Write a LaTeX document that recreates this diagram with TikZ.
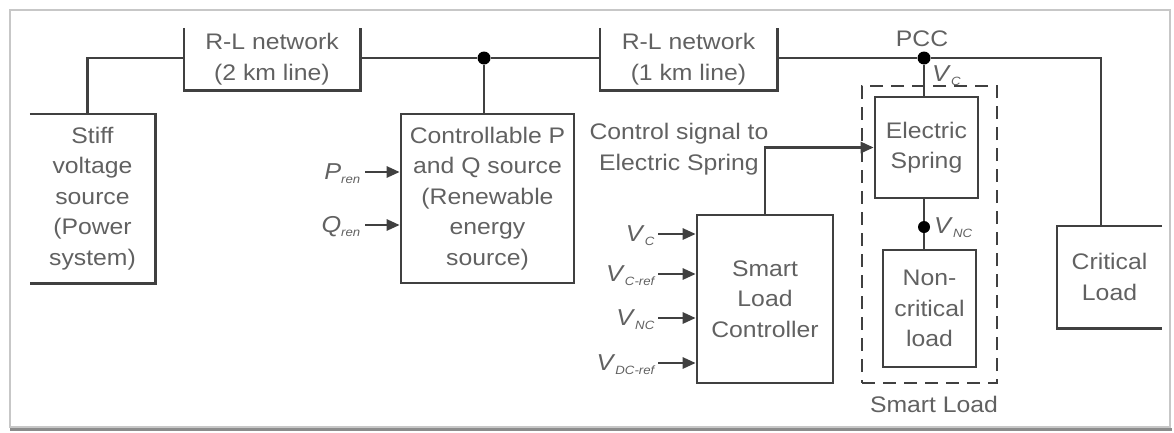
\documentclass[tikz,border=0pt]{standalone}
\usepackage{fontspec}
\setmainfont{Liberation Sans}[FakeStretch=1.1]
\usetikzlibrary{arrows.meta}
\newcommand{\sbs}[1]{\textsubscript{\fontsize{12}{12}\selectfont\itshape #1}}
\begin{document}
\begin{tikzpicture}[x=1pt,y=-1pt,
  wire/.style={draw=black!75, line width=2.6pt},
  txt/.style={align=center, text=black!62, inner sep=0pt, font=\fontsize{22.5}{30.5}\selectfont},
  blk/.style={txt, draw=black!75, line width=2.6pt},
  openblk/.style={txt},
  lbl/.style={text=black!62, inner sep=0pt, font=\fontsize{23}{24}\selectfont},
  arr/.style={wire, -{Triangle[length=13pt,width=11pt]}},
  jdot/.style={circle, fill=black, inner sep=0pt, minimum size=13pt},
  smartbox/.style={draw=black!75, line width=2.8pt, dash pattern=on 13pt off 8pt, inner sep=0pt}]
\useasboundingbox (0,0) rectangle (1174,432);
% frame
\draw[black!22, line width=1.2pt] (10,10) rectangle (1170,427);
\draw[black!45, line width=3pt] (10,429) -- (1172,429);

% blocks with open sides
\node[openblk, minimum width=125pt, minimum height=169pt] (stiff) at (92.5,198.5) {Stiff\\voltage\\source\\(Power\\system)};
\draw[wire] (stiff.north west) -- (stiff.north east) -- (stiff.south east) -- (stiff.south west);

\node[openblk, minimum width=176pt, minimum height=62pt] (rl1) at (272,59) {R-L network\\(2 km line)};
\draw[wire] (rl1.north west) -- (rl1.south west) -- (rl1.south east) -- (rl1.north east);

\node[openblk, minimum width=177pt, minimum height=62pt] (rl2) at (688.5,59) {R-L network\\(1 km line)};
\draw[wire] (rl2.north west) -- (rl2.south west) -- (rl2.south east) -- (rl2.north east);

\node[openblk, minimum width=105pt, minimum height=102pt] (crit) at (1109.5,277) {Critical\\Load};
\draw[wire] (crit.north east) -- (crit.north west) -- (crit.south west) -- (crit.south east);

% closed blocks
\node[blk, minimum width=173pt, minimum height=169pt] (ctrl) at (487.5,198.5) {Controllable P\\and Q source\\(Renewable\\energy\\source)};
\node[blk, minimum width=103pt, minimum height=101pt] (es) at (926.5,147.5) {Electric\\Spring};
\node[blk, minimum width=93pt, minimum height=117pt] (nc) at (929.5,308.5) {Non-\\critical\\load};
\node[blk, minimum width=136pt, minimum height=168pt] (slc) at (765,299) {Smart\\Load\\Controller};
\node[smartbox, minimum width=135pt, minimum height=297pt] (sl) at (929.5,234.5) {};
\node[txt] (sllabel) at (934,404) {Smart Load};

% junctions
\node[jdot] (j1) at (484,58) {};
\node[jdot] (pcc) at (924,58) {};
\node[jdot, minimum size=12pt] (vnc) at (924,227) {};
\coordinate (corner) at (1101,58);

% main line
\draw[wire] ([xshift=-5pt]stiff.north) |- (rl1.west |- j1);
\draw[wire] (rl1.east |- j1) -- (j1) -- (rl2.west |- j1);
\draw[wire] (rl2.east |- j1) -- (pcc) -- (corner) -- (corner |- crit.north);
\draw[wire] (j1) -- (j1 |- ctrl.north);
\draw[wire] (pcc) -- (pcc |- es.north);
\draw[wire] (pcc |- es.south) -- (vnc) -- (pcc |- nc.north);

% labels on the bus
\node[txt] (pcclabel) at (922,39) {PCC};
\node[lbl, anchor=west] (vclabel) at (932,76) {\textit{V}\sbs{C}};
\node[lbl, anchor=west] (vnclabel) at (934,228) {\textit{V}\sbs{NC}};

% control signal
\node[txt] (ctrltext) at (679,149) {Control signal to\\Electric Spring};
\draw[arr] (slc.north) |- (es.west);

% P and Q inputs
\coordinate (pin) at (365,172);
\coordinate (qin) at (365,225);
\node[lbl, anchor=east] (plabel) at (361,174) {\textit{P}\sbs{ren}};
\node[lbl, anchor=east] (qlabel) at (361,227) {\textit{Q}\sbs{ren}};
\draw[arr] (pin) -- (ctrl.west |- pin);
\draw[arr] (qin) -- (ctrl.west |- qin);

% controller inputs
\coordinate (in1) at (658,234);
\coordinate (in2) at (658,274);
\coordinate (in3) at (658,318);
\coordinate (in4) at (658,363);
\node[lbl, anchor=east] (l1) at (655,236) {\textit{V}\sbs{C}};
\node[lbl, anchor=east] (l2) at (655,276) {\textit{V}\sbs{C-ref}};
\node[lbl, anchor=east] (l3) at (655,320) {\textit{V}\sbs{NC}};
\node[lbl, anchor=east] (l4) at (655,365) {\textit{V}\sbs{DC-ref}};
\draw[arr] (in1) -- (slc.west |- in1);
\draw[arr] (in2) -- (slc.west |- in2);
\draw[arr] (in3) -- (slc.west |- in3);
\draw[arr] (in4) -- (slc.west |- in4);
\end{tikzpicture}
\end{document}
